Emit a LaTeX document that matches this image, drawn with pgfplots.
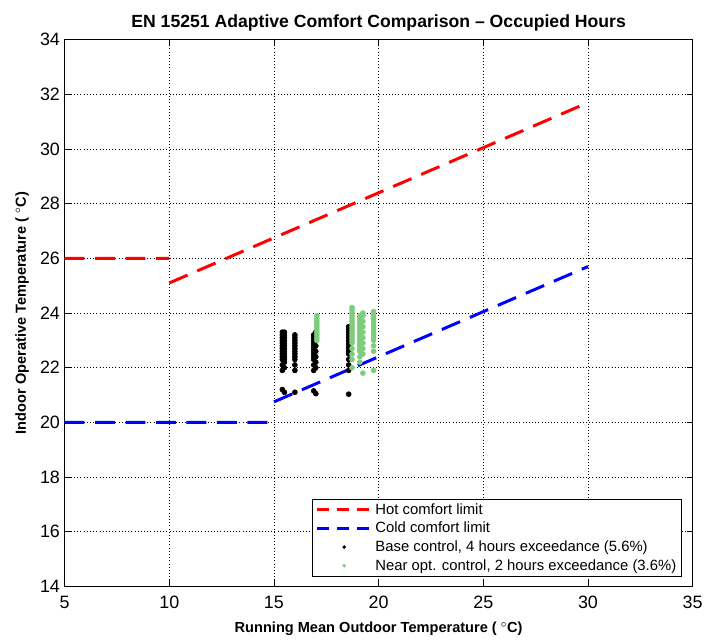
\documentclass[border=0pt]{standalone}
\usepackage{pgfplots}
\pgfplotsset{compat=1.18}
\usepackage{fontspec}
\setmainfont{Liberation Sans}
\definecolor{nearopt}{RGB}{125,205,125}
\pgfplotsset{
    dashlegend/.style={legend image code/.code={\draw[##1, dash pattern=on 9pt off 6pt] (0pt,0pt) -- (41pt,0pt);}},
    dotlegend/.style={legend image code/.code={\draw[##1, mark size=1pt] plot coordinates {(20.5pt,0pt)};}},
}

\begin{document}
\begin{tikzpicture}
\begin{axis}[
    width=474pt, height=412.5pt, scale only axis,
    xmin=5, xmax=35, ymin=14, ymax=34,
    xtick={5,10,...,35}, ytick={14,16,...,34},
    grid=major,
    grid style={black, dotted, line width=0.5pt},
    axis line style={line width=0.6pt},
    tick align=inside, major tick length=4.5pt,
    tick style={black, line width=0.6pt},
    /pgf/number format/assume math mode=true,
    ticklabel style={font=\fontsize{13.5}{13.5}\selectfont},
    xticklabel style={yshift=-4pt},
    xlabel={\bfseries Running Mean Outdoor Temperature ( $^{\circ}$C)},
    ylabel={\bfseries Indoor Operative Temperature ( $^{\circ}$C)},
    label style={font=\fontsize{11}{11}\selectfont},
    xlabel style={at={(axis description cs:0.5,-0.0776)}, anchor=center},
    ylabel style={at={(axis description cs:-0.0675,0.5)}, anchor=center},
    unbounded coords=jump,
    legend style={at={(0.983,0.018)}, anchor=south east,
        font=\fontsize{11.2}{12}\selectfont, draw=black, line width=0.6pt,
        inner xsep=2pt, inner ysep=1pt, row sep=0.5pt},
    legend cell align=left,
]
\addplot[red, line width=2.25pt, dash pattern=on 15pt off 8pt, dashlegend]
    coordinates {(5,26) (10,26) (10,nan) (10,25.1) (30,31.7)};
\addlegendentry{Hot comfort limit}
\addplot[blue, line width=2.25pt, dash pattern=on 15pt off 8pt, dashlegend]
    coordinates {(5,20) (15,20) (15,nan) (15,20.75) (30,25.7)};
\addlegendentry{Cold comfort limit}
\addplot[only marks, mark=*, mark size=1.9pt, black, dotlegend]
    coordinates {
    (15.4,21.2) (15.4,21.9) (15.4,22.1) (15.4,22.3) (15.4,22.4) (15.4,22.5) (15.4,22.6)
    (15.4,22.7) (15.4,22.8) (15.4,22.9) (15.4,23.0) (15.4,23.1) (15.4,23.2) (15.4,23.3)
    (15.5,21.1) (15.5,22.0) (15.5,22.2) (15.5,22.3) (15.5,22.4) (15.5,22.5) (15.5,22.6)
    (15.5,22.7) (15.5,22.8) (15.5,22.9) (15.5,23.0) (15.5,23.1) (15.5,23.2) (15.5,23.3)
    (16.0,21.1) (16.0,21.9) (16.0,22.1) (16.0,22.3) (16.0,22.4) (16.0,22.5) (16.0,22.6)
    (16.0,22.7) (16.0,22.8) (16.0,22.9) (16.0,23.0) (16.0,23.1) (16.0,23.2)
    (16.9,21.15) (16.9,21.9) (16.9,22.1) (16.9,22.3) (16.9,22.4) (16.9,22.5) (16.9,22.6)
    (16.9,22.7) (16.9,22.8) (16.9,22.9) (16.9,23.0) (16.9,23.1) (16.9,23.2)
    (17.0,21.05) (17.0,22.0) (17.0,22.2) (17.0,22.4) (17.0,22.6) (17.0,22.8) (17.0,23.0)
    (17.0,23.2) (17.0,23.3)
    (18.57,21.03) (18.57,21.9) (18.57,22.1) (18.57,22.3) (18.57,22.5) (18.57,22.6)
    (18.57,22.7) (18.57,22.8) (18.57,22.9) (18.57,23.0) (18.57,23.1) (18.57,23.2)
    (18.57,23.3) (18.57,23.4) (18.57,23.5)
    };
\addlegendentry{Base control, 4 hours exceedance (5.6\%)}
\addplot[only marks, mark=*, mark size=1.9pt, nearopt, dotlegend]
    coordinates {
    (17.05,23.0) (17.05,23.1) (17.05,23.2) (17.05,23.3) (17.05,23.4) (17.05,23.5)
    (17.05,23.6) (17.05,23.7) (17.05,23.8) (17.05,23.9)
    (18.73,22.0) (18.73,22.3) (18.73,22.5) (18.73,22.7) (18.73,22.9) (18.73,23.0)
    (18.73,23.1) (18.73,23.2) (18.73,23.3) (18.73,23.4) (18.73,23.5) (18.73,23.6)
    (18.73,23.7) (18.73,23.8) (18.73,23.9) (18.73,24.0) (18.73,24.1) (18.73,24.2)
    (19.1,22.2) (19.1,22.4) (19.1,22.6) (19.1,22.7) (19.1,22.8) (19.1,22.9) (19.1,23.0)
    (19.1,23.1) (19.1,23.2) (19.1,23.3) (19.1,23.4) (19.1,23.5) (19.1,23.6) (19.1,23.7)
    (19.1,23.8) (19.1,23.9)
    (19.25,21.8) (19.25,22.5) (19.25,22.7) (19.25,22.9) (19.25,23.1) (19.25,23.3)
    (19.25,23.5) (19.25,23.7) (19.25,23.9) (19.25,24.0)
    (19.76,21.9) (19.76,22.6) (19.76,22.8) (19.76,23.0) (19.76,23.1) (19.76,23.2)
    (19.76,23.3) (19.76,23.4) (19.76,23.5) (19.76,23.6) (19.76,23.7) (19.76,23.8)
    (19.76,23.9) (19.76,24.05)
    };
\addlegendentry{Near opt. control, 2 hours exceedance (3.6\%)}
\end{axis}
% title, baseline placed as in the reference
\node[anchor=base, inner sep=0pt, font=\bfseries\fontsize{13.3}{13.3}\selectfont]
    at ([yshift=9pt]current axis.north) {EN 15251 Adaptive Comfort Comparison -- Occupied Hours};
% page margins as in the reference
\path ([shift={(-48.75pt,-39pt)}]current axis.south west) rectangle ([shift={(7.5pt,30pt)}]current axis.north east);
\end{tikzpicture}
\end{document}
